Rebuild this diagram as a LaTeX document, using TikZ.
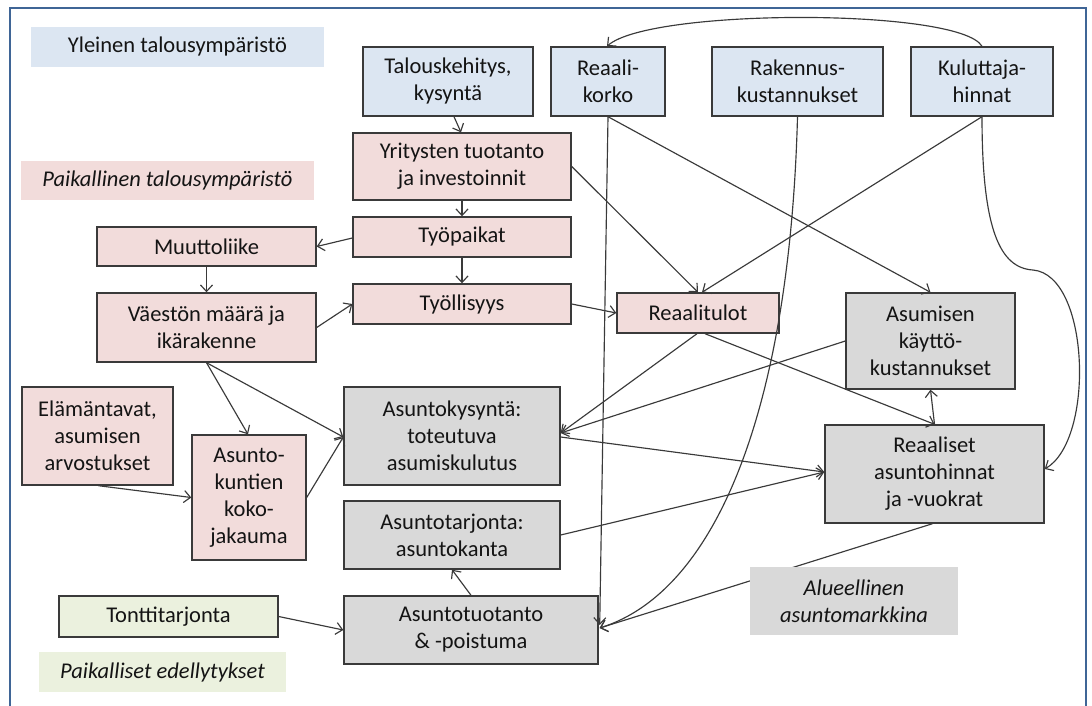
\documentclass[tikz,border=0pt]{standalone}
\usepackage{fontspec}
\setmainfont{Carlito}
\usetikzlibrary{arrows.meta}
\definecolor{fblue}{HTML}{DCE6F2}
\definecolor{fpink}{HTML}{F2DCDB}
\definecolor{fgray}{HTML}{D9D9D9}
\definecolor{fgreen}{HTML}{EBF1DE}
\definecolor{frameblue}{HTML}{3F6596}
\definecolor{edge}{HTML}{3A3A3A}
\definecolor{txt}{HTML}{141414}
\begin{document}
\begin{tikzpicture}[x=1pt,y=-1pt,
  box/.style={draw=edge, line width=1.4pt, align=center, inner sep=0pt, font=\fontsize{22.5}{27}\selectfont, text=txt},
  lbl/.style={draw=none, align=center, inner sep=0pt, font=\fontsize{22.5}{27}\selectfont, text=txt},
  arr/.style={draw=edge, line width=1.15pt, -{Straight Barb[length=6.5pt,width=12pt]}},
  ]
\useasboundingbox (0,0) rectangle (1092,706);
\begin{scope}
\clip (0,0) rectangle (1092,706);
\fill[white] (0,0) rectangle (1092,706);
\draw[frameblue, line width=2.5pt] (10,8) rectangle (1086,740);
\end{scope}

% labels
\node[lbl, fill=fblue, minimum width=293pt, minimum height=40pt] (lyleinen) at (177.5,47) {Yleinen talousympäristö};
\node[lbl, fill=fpink, minimum width=293pt, minimum height=39pt] (lpaik) at (167.5,180.5) {\itshape Paikallinen talousympäristö};
\node[lbl, fill=fgreen, minimum width=247pt, minimum height=40pt] (ledell) at (162.5,672) {\itshape Paikalliset edellytykset};

% top row
\node[box, fill=fblue, minimum width=170pt, minimum height=69pt] (talous) at (448,81.5) {Talouskehitys,\\kysyntä};
\node[box, fill=fblue, minimum width=114pt, minimum height=69pt] (reaali) at (608,81.5) {Reaali-\\korko};
\node[box, fill=fblue, minimum width=171pt, minimum height=69pt] (rakennus) at (797.5,81.5) {Rakennus-\\kustannukset};
\node[box, fill=fblue, minimum width=142pt, minimum height=69pt] (kuluttaja) at (982,81.5) {Kuluttaja-\\hinnat};

% pink boxes
\node[box, fill=fpink, minimum width=218pt, minimum height=67pt] (yritys) at (462,166.5) {Yritysten tuotanto\\ja investoinnit};
\node[box, fill=fpink, minimum width=218pt, minimum height=40pt] (tyopaikat) at (462,237) {Työpaikat};
\node[box, fill=fpink, minimum width=219pt, minimum height=39pt] (muutto) at (206.5,246.5) {Muuttoliike};
\node[box, fill=fpink, minimum width=218pt, minimum height=40pt] (tyollisyys) at (462,304) {Työllisyys};
\node[box, fill=fpink, minimum width=219pt, minimum height=69pt] (vaesto) at (206.5,327.5) {Väestön määrä ja\\ikärakenne};
\node[box, fill=fpink, minimum width=162pt, minimum height=40pt] (reaalitulot) at (698,313) {Reaalitulot};
\node[box, fill=fpink, minimum width=151pt, minimum height=98pt] (elaman) at (97.5,436) {Elämäntavat,\\asumisen\\arvostukset};
\node[box, fill=fpink, minimum width=114pt, minimum height=125pt] (kunnat) at (249,497.5) {Asunto-\\kuntien\\koko-\\jakauma};

% gray boxes
\node[box, fill=fgray, minimum width=169pt, minimum height=96pt] (asumisen) at (930.5,341) {Asumisen\\käyttö-\\kustannukset};
\node[box, fill=fgray, minimum width=216pt, minimum height=98pt] (kysynta) at (452,436) {Asuntokysyntä:\\toteutuva\\asumiskulutus};
\node[box, fill=fgray, minimum width=219pt, minimum height=98pt] (reaaliset) at (934.5,474) {Reaaliset\\asuntohinnat\\ja -vuokrat};
\node[box, fill=fgray, minimum width=216pt, minimum height=68pt] (tarjonta) at (452,535) {Asuntotarjonta:\\asuntokanta};
\node[box, fill=fgray, minimum width=254pt, minimum height=68pt] (tuotanto) at (471,630) {Asuntotuotanto\\\&~-poistuma};
\node[box, fill=fgreen, minimum width=219pt, minimum height=41pt] (tontti) at (168.5,616.5) {Tonttitarjonta};

% connectors
\draw[arr] ([xshift=6pt]talous.south) -- ([xshift=-1pt]yritys.north);
\draw[arr] (yritys.south) -- (tyopaikat.north);
\draw[arr] ([yshift=-1pt]tyopaikat.west) -- (muutto.east);
\draw[arr] (tyopaikat.south) -- (tyollisyys.north);
\draw[arr] (muutto.south) -- (vaesto.north);
\draw[arr] (vaesto.east) -- (tyollisyys.west);
\draw[arr] (tyollisyys.east) -- (reaalitulot.west);
\draw[arr] (yritys.east) -- (reaalitulot.north);
\draw[arr] (reaali.south) -- (asumisen.north);
\draw[arr] (kuluttaja.south) -- ([xshift=4pt]reaalitulot.north);
\draw[arr] (reaali.south) -- ([xshift=1pt,yshift=5pt]tuotanto.east);
\draw[arr] (rakennus.south) .. controls (790,400) and (720,590) .. ([xshift=1pt,yshift=2pt]tuotanto.east);
\draw[arr] (kuluttaja.south) .. controls (982,230) and (1000,268) .. (1033,270) .. controls (1090,275) and (1095,440) .. ([yshift=5pt]reaaliset.east);
\draw[arr] (kuluttaja.north) .. controls (960,8) and (650,8) .. ([xshift=-1pt]reaali.north);
\draw[arr] ([xshift=-1pt]reaalitulot.south) -- ([yshift=3pt]kysynta.east);
\draw[arr] ([xshift=7pt]reaalitulot.south) -- (reaaliset.north);
\draw[arr] (asumisen.west) -- ([yshift=3pt]kysynta.east);
\draw[arr] (reaaliset.north) -- (asumisen.south);
\draw[arr] ([yshift=-1pt]kysynta.east) -- ([yshift=2pt]reaaliset.west);
\draw[arr] (tarjonta.east) -- ([yshift=2pt]reaaliset.west);
\draw[arr] (vaesto.south) -- ([xshift=-1pt]kunnat.north);
\draw[arr] (vaesto.south) -- ([yshift=-1pt]kysynta.west);
\draw[arr] (kunnat.east) -- ([yshift=-1pt]kysynta.west);
\draw[arr] ([xshift=1pt]elaman.south) -- (kunnat.west);
\draw[arr] (tuotanto.north) -- (tarjonta.south);
\draw[arr] (tontti.east) -- (tuotanto.west);
\draw[arr] ([xshift=-2pt]reaaliset.south) -- ([xshift=1pt,yshift=2pt]tuotanto.east);

\node[lbl, fill=fgray, minimum width=208pt, minimum height=68pt] (lalue) at (854,601) {\itshape Alueellinen\\\itshape asuntomarkkina};
\end{tikzpicture}
\end{document}
